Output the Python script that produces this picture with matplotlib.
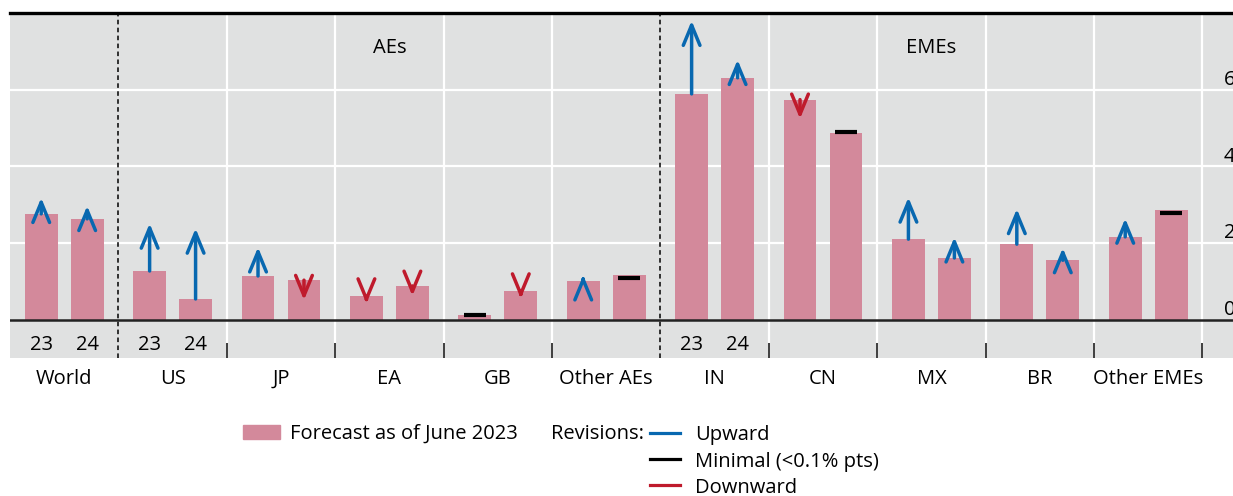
import matplotlib
matplotlib.use("Agg")
import matplotlib.pyplot as plt
from matplotlib.patches import Patch
from matplotlib.lines import Line2D

# --- DATA ---
groups = ["World", "US", "JP", "EA", "GB", "Other AEs", "IN", "CN", "MX", "BR", "Other EMEs"]
years = ["23", "24"]
year_label_groups = ["World", "US", "IN"]
forecast_23 = [2.76, 1.27, 1.14, 0.61, 0.12, 1.00, 5.89, 5.74, 2.10, 1.97, 2.16]
forecast_24 = [2.63, 0.54, 1.03, 0.88, 0.75, 1.16, 6.31, 4.87, 1.61, 1.55, 2.86]
latest_23 = [3.18, 2.51, 1.89, 0.42, 0.12, 1.16, 7.80, 5.24, 3.19, 2.89, 2.64]
latest_24 = [2.97, 2.38, 0.51, 0.62, 0.55, 1.09, 6.78, 4.89, 2.15, 1.87, 2.78]
region_labels = ["AEs", "EMEs"]
region_spans = [("US", "Other AEs"), ("IN", "Other EMEs")]
y_ticks = [0, 2, 4, 6]

# --- STYLE ---
bg = "#e0e1e1"
bar_col = "#d3899b"
up_col = "#0868b0"
down_col = "#bf1a2c"
min_col = "#000000"
fs = 14.5
plt.rcParams["font.family"] = ["Open Sans", "DejaVu Sans"]

W, H = 1233, 496
fig = plt.figure(figsize=(W / 100, H / 100), dpi=100)
ax = fig.add_axes([10 / W, (H - 358) / H, 1250 / W, (358 - 13) / H])
ax.set_facecolor(bg)

n = len(groups)
off = 0.212
bw = 0.304
ax.set_xlim(-0.5, -0.5 + 1250 / 108.4)
ax.set_ylim(-1, 8)

# grid
for v in y_ticks[1:]:
    ax.axhline(v, color="white", lw=1.6, zorder=0)
dashed_at = [0.5, 5.5]
for b in range(1, n + 1):
    xb = b - 0.5
    if xb in dashed_at:
        ax.vlines(xb, -1, 8, color="black", lw=1.1, linestyles=(0, (3, 2.2)), zorder=1)
    else:
        ax.vlines(xb, -0.62, 8, color="white", lw=1.6, zorder=0)
        ax.vlines(xb, -1, -0.62, color="#333333", lw=1.3, zorder=1)

# bars
xs = list(range(n))
x23 = [x - off for x in xs]
x24 = [x + off for x in xs]
ax.bar(x23, forecast_23, width=bw, color=bar_col, zorder=2)
ax.bar(x24, forecast_24, width=bw, color=bar_col, zorder=2)

# revisions
def draw_rev(xp, old, new):
    d = new - old
    if abs(d) < 0.1:
        ax.hlines(new, xp - 0.1, xp + 0.1, color=min_col, lw=3, zorder=4)
        return
    col = up_col if d > 0 else down_col
    ax.annotate("", xy=(xp, new), xytext=(xp, old),
                arrowprops=dict(arrowstyle="->,head_length=1.45,head_width=0.6",
                                color=col, lw=2.5, shrinkA=0, shrinkB=0,
                                mutation_scale=10),
                zorder=4)

for i in range(n):
    draw_rev(x23[i], forecast_23[i], latest_23[i])
    draw_rev(x24[i], forecast_24[i], latest_24[i])

ax.axhline(0, color="#222222", lw=1.8, zorder=3)

# spines
for s in ["left", "right", "bottom"]:
    ax.spines[s].set_visible(False)
ax.spines["top"].set_linewidth(2.4)
ax.spines["top"].set_color("black")

# ticks / labels
ax.set_yticks([])
ax.set_xticks(xs)
ax.set_xticklabels(groups, fontsize=fs)
ax.tick_params(axis="x", length=0, pad=8)

for g in year_label_groups:
    i = groups.index(g)
    ax.text(x23[i], -0.67, years[0], ha="center", va="center", fontsize=fs)
    ax.text(x24[i], -0.67, years[1], ha="center", va="center", fontsize=fs)

for v in y_ticks:
    ax.text(n - 0.5 + 0.2, v + 0.12, str(v), ha="left", va="baseline", fontsize=fs)

for lab, (a, b) in zip(region_labels, region_spans):
    xc = (groups.index(a) + groups.index(b)) / 2
    ax.text(xc, 7.1, lab, ha="center", va="center", fontsize=fs)

# legend
leg1 = fig.legend(handles=[Patch(color=bar_col, label="Forecast as of June 2023")],
                  loc="center left", bbox_to_anchor=(243 / W, 1 - 434 / H),
                  frameon=False, fontsize=fs, borderpad=0, borderaxespad=0,
                  handlelength=1.85, handleheight=0.75, handletextpad=0.5)
fig.text(551 / W, 1 - 434 / H, "Revisions:", fontsize=fs, va="center", ha="left")
rev_handles = [Line2D([], [], color=up_col, lw=2.3, label="Upward"),
               Line2D([], [], color=min_col, lw=2.3, label="Minimal (<0.1% pts)"),
               Line2D([], [], color=down_col, lw=2.3, label="Downward")]
fig.legend(handles=rev_handles, loc="center left",
           bbox_to_anchor=(650 / W, 1 - 461.5 / H), frameon=False, fontsize=fs,
           borderpad=0, borderaxespad=0, handlelength=1.5, handletextpad=0.75,
           labelspacing=0.3)

fig.savefig("out.png", dpi=100)
